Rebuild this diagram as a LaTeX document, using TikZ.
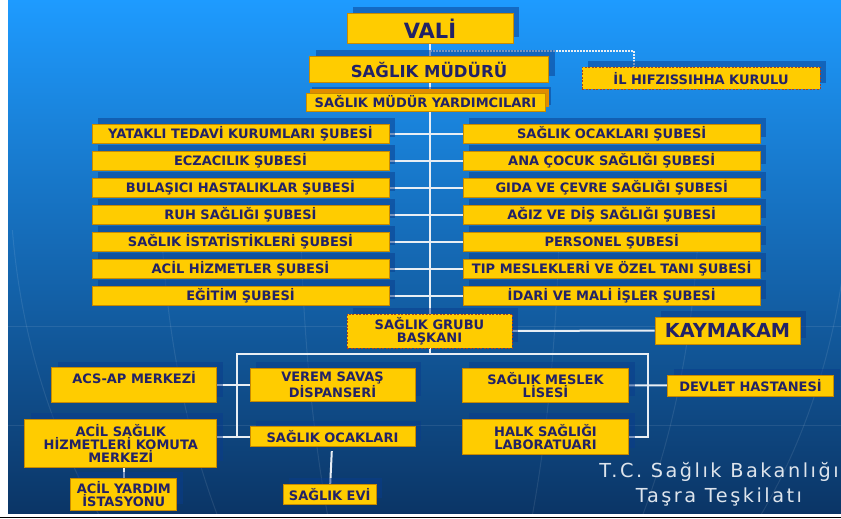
\documentclass[tikz,border=0pt]{standalone}
\usepackage{fontspec}
\setmainfont{DejaVu Sans}
\newfontfamily\titlefont[LetterSpace=13]{DejaVu Sans}
\usetikzlibrary{shadows}
\definecolor{boxfill}{HTML}{FFCC00}
\definecolor{boxline}{HTML}{C88A00}
\definecolor{boxtext}{HTML}{222266}
\definecolor{dashline}{HTML}{A8441C}
\definecolor{skytop}{HTML}{1E9BFF}
\definecolor{skymid}{HTML}{1670D0}
\definecolor{skybot}{HTML}{0B3566}
\definecolor{shadowblue}{HTML}{0A3C8C}
\definecolor{bevel}{HTML}{E08C00}
\definecolor{linecol}{HTML}{E8EEF4}
\definecolor{titlegrey}{HTML}{DDE4EC}
\pgfdeclarelayer{back}
\pgfdeclarelayer{wires}
\pgfsetlayers{back,wires,main}
\tikzset{
	box/.style={draw=boxline,line width=0.8pt,fill=boxfill,text=boxtext,inner sep=0pt,align=center,
		font=\bfseries\fontsize{13}{12.8}\selectfont,
		drop shadow={shadow xshift=6pt,shadow yshift=6pt,fill=shadowblue,opacity=0.5}},
	sube/.style={box,minimum width=297pt,minimum height=19pt},
	dashbox/.style={box,draw=dashline,dash pattern=on 2pt off 1.5pt},
	conn/.style={draw=linecol,line width=2pt},
	globe/.style={draw=white,opacity=0.09,line width=1pt}
}
\begin{document}
\begin{tikzpicture}[x=1pt,y=-1pt]
	\useasboundingbox (0,0) rectangle (841,519);
	\path (634,51) coordinate (dot)
	(237,354) coordinate (busl)
	(648,354) coordinate (busr);
	% top of the chart
	\node[box,minimum width=166pt,minimum height=30pt,font=\bfseries\fontsize{21}{22}\selectfont] (vali) at (430,28.5) {VALİ};
	\node[box,minimum width=239pt,minimum height=26pt,font=\bfseries\fontsize{16.5}{18}\selectfont] (mud) at (429,69.5) {SAĞLIK MÜDÜRÜ};
	\node[dashbox,minimum width=238pt,minimum height=22pt] (ilh) at (701,78.3) {İL HIFZISSIHHA KURULU};
	\node[box,minimum width=239pt,minimum height=18pt,
		general shadow={shadow xshift=4pt,shadow yshift=4pt,fill=bevel}] (yard) at (425.5,102) {SAĞLIK MÜDÜR YARDIMCILARI};
	% sections
	\foreach \t [count=\i] in {YATAKLI TEDAVİ KURUMLARI ŞUBESİ,ECZACILIK ŞUBESİ,BULAŞICI HASTALIKLAR ŞUBESİ,RUH SAĞLIĞI ŞUBESİ,SAĞLIK İSTATİSTİKLERİ ŞUBESİ,ACİL HİZMETLER ŞUBESİ,EĞİTİM ŞUBESİ}{
		\node[sube] (l\i) at (240.5,106.5+27*\i) {\t};
	}
	\foreach \t [count=\i] in {SAĞLIK OCAKLARI ŞUBESİ,ANA ÇOCUK SAĞLIĞI ŞUBESİ,GIDA VE ÇEVRE SAĞLIĞI ŞUBESİ,AĞIZ VE DİŞ SAĞLIĞI ŞUBESİ,PERSONEL ŞUBESİ,TIP MESLEKLERİ VE ÖZEL TANI ŞUBESİ,İDARİ VE MALİ İŞLER ŞUBESİ}{
		\node[sube] (r\i) at (611.7,106.5+27*\i) {\t};
	}
	% lower part
	\node[dashbox,minimum width=165pt,minimum height=34pt] (sgb) at (429.5,331) {SAĞLIK GRUBU\\BAŞKANI};
	\node[box,minimum width=145pt,minimum height=27pt,font=\bfseries\fontsize{19.3}{20}\selectfont] (kay) at (727.5,330.5) {KAYMAKAM};
	\node[box,minimum width=165pt,minimum height=35pt,text height=9pt,text depth=13pt] (acs) at (134.2,385) {ACS-AP MERKEZİ};
	\node[box,minimum width=165pt,minimum height=33.5pt] (verem) at (332.5,385) {VEREM SAVAŞ\\DİSPANSERİ};
	\node[box,minimum width=192pt,minimum height=48pt] (acil) at (120.8,443.3) {ACİL SAĞLIK\\HİZMETLERİ KOMUTA\\MERKEZİ};
	\node[box,minimum width=165pt,minimum height=20pt] (ocak) at (332.5,436.7) {SAĞLIK OCAKLARI};
	\node[box,minimum width=106pt,minimum height=32pt] (acily) at (123.8,494.2) {ACİL YARDIM\\İSTASYONU};
	\node[box,minimum width=93pt,minimum height=20pt] (evi) at (329.7,494.3) {SAĞLIK EVİ};
	\node[box,minimum width=166pt,minimum height=34pt] (lise) at (545.5,385.3) {SAĞLIK MESLEK\\LİSESİ};
	\node[box,minimum width=166pt,minimum height=35pt] (halk) at (545.5,436.7) {HALK SAĞLIĞI\\LABORATUARI};
	\node[box,minimum width=166pt,minimum height=21pt] (devlet) at (750.5,385.5) {DEVLET HASTANESİ};
	\node[text=titlegrey,align=center,font=\titlefont\fontsize{19.3}{25}\selectfont] (title) at (719,484.2) {T.C. Sağlık Bakanlığı\\Taşra Teşkilatı};
	% connectors
	\begin{pgfonlayer}{wires}
		\draw[conn] (vali.south) -- (vali.south |- sgb.north);
		\draw[linecol,line width=1.6pt,dash pattern=on 1.5pt off 1.5pt] (vali.south |- dot) -- (dot) -- (dot |- ilh.north);
		\foreach \i in {1,...,7}{
			\draw[conn] (l\i) -- (r\i);
		}
		\draw[conn] (sgb) -- (kay);
		\draw[conn] (sgb.south) -- (sgb.south |- busl);
		\draw[conn] (busl |- ocak.west) -- (busl) -- (busr) -- (busr |- halk.east) -- (halk.east);
		\draw[conn] (acs) -- (verem);
		\draw[conn] (acil.east |- ocak.west) -- (ocak.west);
		\draw[conn] (lise) -- (devlet);
		\draw[conn,shorten <=4pt] (ocak) -- (evi);
		\draw[conn] (acily.north) -- (acily.north |- acil.south);
	\end{pgfonlayer}
	% background
	\begin{pgfonlayer}{back}
		\fill[top color=skytop,middle color=skymid,bottom color=skybot] (8,0) rectangle (841,513);
		\begin{scope}
			\clip (8,230) rectangle (841,513);
			\foreach \r in {130,270,420,590,790}{
				\draw[globe] (430,170) ellipse [x radius=\r,y radius=560];
			}
			\foreach \y in {326,425}{
				\draw[globe] (8,\y) -- (841,\y);
			}
		\end{scope}
		\draw[line width=1.2pt] (0,517.5) -- (841,517.5);
	\end{pgfonlayer}
\end{tikzpicture}
\end{document}
